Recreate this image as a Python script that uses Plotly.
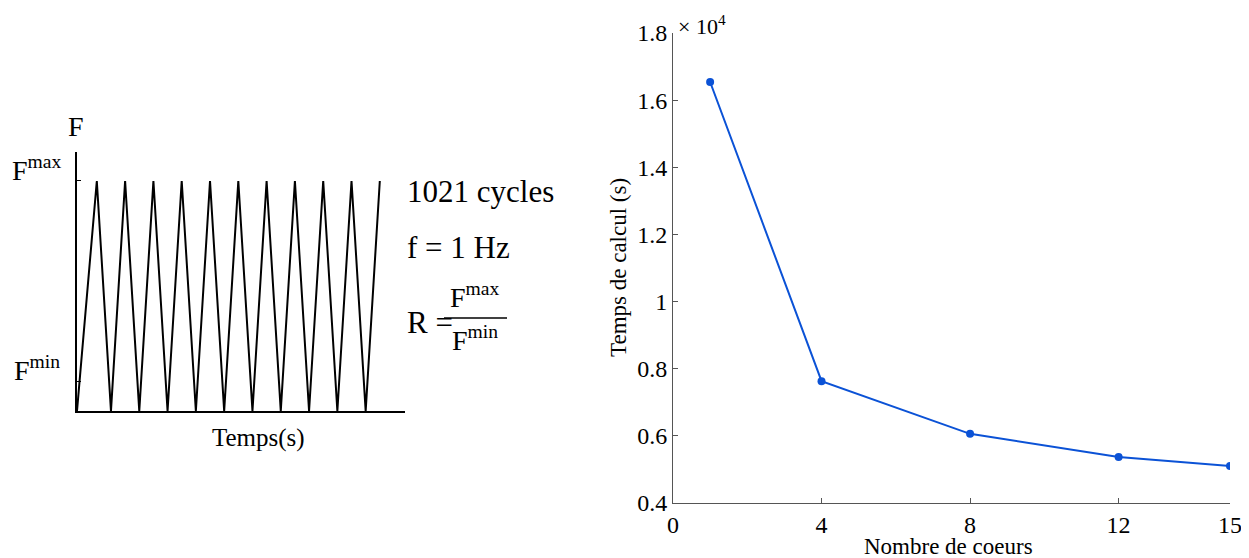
import plotly.graph_objects as go

# ---------------- data ----------------
# Right panel: computation time vs number of cores
cores = [1, 4, 8, 12, 15]
time_s = [16540, 7630, 6060, 5370, 5100]
y_tickvals = [4000, 6000, 8000, 10000, 12000, 14000, 16000, 18000]
y_ticktext = ["0.4", "0.6", "0.8", "1", "1.2", "1.4", "1.6", "1.8"]
x_tickvals = [0, 4, 8, 12, 15]
x_ticktext = ["0", "4", "8", "12", "15"]

# Left panel: schematic triangular load signal (normalised units)
saw_t = [0, 0.7, 1.2, 1.7, 2.2, 2.7, 3.2, 3.7, 4.2, 4.7, 5.2, 5.7, 6.2, 6.7,
         7.2, 7.7, 8.2, 8.7, 9.2, 9.7, 10.2, 10.7]
saw_f = [0, 1, 0, 1, 0, 1, 0, 1, 0, 1, 0, 1, 0, 1, 0, 1, 0, 1, 0, 1, 0, 1]
f_ticks = [0.13, 1.0]

OFF = 8  # page body margin in the browser
W, H = 1249 - OFF, 558 - OFF
SERIF = "Liberation Serif, Times New Roman, serif"
BLUE = "#0b52d6"


def px(x, y):
    return (x - OFF) / W, 1 - (y - OFF) / H


fig = go.Figure()

fig.add_trace(go.Scatter(x=saw_t, y=saw_f, mode="lines",
                         line=dict(color="black", width=2),
                         xaxis="x2", yaxis="y2", showlegend=False, hoverinfo="skip"))

fig.add_trace(go.Scatter(x=cores, y=time_s, mode="lines+markers",
                         line=dict(color=BLUE, width=2),
                         marker=dict(color=BLUE, size=8),
                         showlegend=False))

x0, y0 = px(77, 411)
x1, y1 = px(405, 152)
rx0, ry0 = px(673, 503)
rx1, ry1 = px(1230, 33)

fig.update_layout(
    width=W, height=H,
    margin=dict(l=0, r=0, t=0, b=0, autoexpand=False),
    paper_bgcolor="white", plot_bgcolor="white",
    font=dict(family=SERIF, color="black"),
    xaxis=dict(domain=[rx0, rx1], range=[0, 15], tickvals=x_tickvals, ticktext=x_ticktext,
               showgrid=False, zeroline=False, showline=True, linecolor="#555555", linewidth=1,
               ticks="inside", ticklen=5, tickcolor="#555555", automargin=False,
               tickfont=dict(family=SERIF, size=24, color="black"), anchor="y"),
    yaxis=dict(domain=[ry0, ry1], range=[4000, 18000], tickvals=y_tickvals, ticktext=y_ticktext,
               showgrid=False, zeroline=False, showline=True, linecolor="#555555", linewidth=1,
               ticks="inside", ticklen=5, tickcolor="#555555", automargin=False,
               tickfont=dict(family=SERIF, size=24, color="black"), anchor="x"),
    xaxis2=dict(domain=[x0, x1], range=[0, 11.59], showticklabels=False, showgrid=False,
                zeroline=False, showline=True, linecolor="black", linewidth=2, ticks="",
                anchor="y2", automargin=False),
    yaxis2=dict(domain=[y0, y1], range=[0, 1.126], showticklabels=False, showgrid=False,
                zeroline=False, showline=True, linecolor="black", linewidth=2,
                ticks="inside", tickvals=f_ticks, ticklen=4, tickcolor="black", tickwidth=1,
                anchor="x2", automargin=False),
)

ann = []


def add_text(text, x, y, size, xanchor="center", yanchor="middle", angle=0):
    ax, ay = px(x, y)
    ann.append(dict(text=text, x=ax, y=ay, xref="paper", yref="paper", showarrow=False,
                    xanchor=xanchor, yanchor=yanchor, textangle=angle,
                    font=dict(family=SERIF, size=size, color="black")))


# left panel labels
add_text("F", 76, 126, 28)
add_text("F<sup>max</sup>", 64, 168, 28, xanchor="right")
add_text("F<sup>min</sup>", 62, 368, 28, xanchor="right")
add_text("Temps(s)", 258, 438, 25)
add_text("1021 cycles", 405, 192, 31, xanchor="left")
add_text("f = 1 Hz", 405, 248, 31, xanchor="left")
add_text("R =", 405, 322, 31, xanchor="left")
add_text("F<sup>max</sup>", 475, 295, 28)
add_text("F<sup>min</sup>", 475, 338, 28)

# right panel labels
add_text("× 10<sup>4</sup>", 676, 25, 22, xanchor="left")
add_text("Temps de calcul (s)", 619, 268, 23, angle=-90)
add_text("Nombre de coeurs", 948, 546, 23)

fig.update_layout(annotations=ann)

fa, fb = px(444, 318)
fc, fd = px(507, 318)
fig.add_shape(type="line", xref="paper", yref="paper", x0=fa, y0=fb, x1=fc, y1=fd,
              line=dict(color="black", width=1.5))

fig.write_html("out.html")
